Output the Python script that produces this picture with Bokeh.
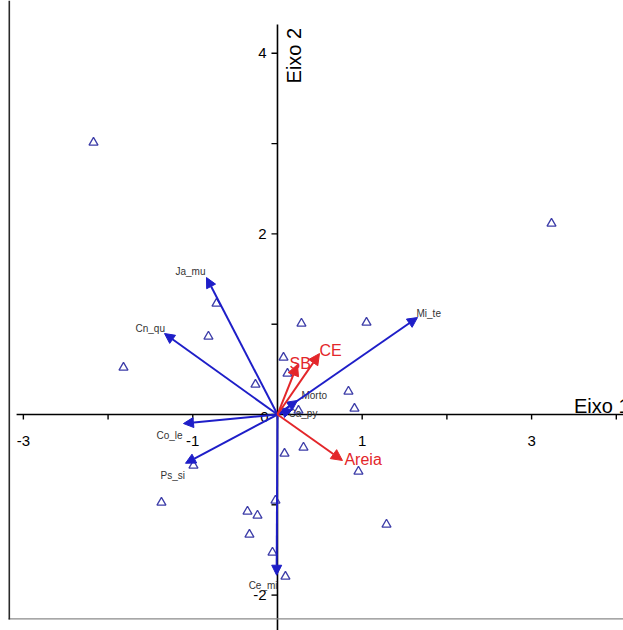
import math
from bokeh.plotting import figure
from bokeh.models import ColumnDataSource, Arrow, NormalHead, BoxAnnotation
from bokeh.core.properties import value
from bokeh.embed import file_html
from bokeh.resources import INLINE

# ---- data ----
site_x = [-2.172, 3.235, -0.720, -0.815, -1.818, -0.260, 0.283, 1.051, 0.071, 0.118,
          0.838, 0.909, 0.248, 0.083, 0.307, 0.956, -0.992, -1.370, 1.287, -0.024,
          -0.354, -0.236, -0.331, -0.059, 0.094]
site_y = [3.012, 2.115, 1.229, 0.864, 0.520, 0.332, 1.008, 1.019, 0.631, 0.454,
          0.255, 0.066, 0.044, -0.432, -0.365, -0.631, -0.565, -0.975, -1.218, -0.952,
          -1.074, -1.118, -1.329, -1.528, -1.794]

species = ["Ja_mu", "Cn_qu", "Co_le", "Ps_si", "Ce_mi", "Mi_te", "Morto", "Ca_py"]
species_x = [-0.838, -1.334, -1.110, -1.086, -0.010, 1.653, 0.236, 0.177]
species_y = [1.517, 0.897, -0.100, -0.540, -1.780, 1.074, 0.155, 0.055]

env = ["SB", "CE", "Areia"]
env_x = [0.236, 0.496, 0.767]
env_y = [0.554, 0.675, -0.509]

x_ticks = [-3, -2, -1, 0, 1, 2, 3, 4]
x_tick_labels = [-3, -1, 1, 3]
y_ticks = [-2, -1, 0, 1, 2, 3, 4]
y_tick_labels = [-2, 2, 4]

x_title = "Eixo 1"
y_title = "Eixo 2"

# ---- styling / placement ----
FONT = value("Liberation Sans")
BLUE = "#1e1ec8"
RED = "#e3262a"
TRI = "#3c3ca8"
sp_dx = [-31, -29, -27, -25, -28, -1, 4, -4]
sp_dy = [-6, -5, 12, 12, 10, -4, -5, 4]
env_dx = [-8, 0, 2]
env_dy = [-1, -3, -1]

W, H = 623, 630
p = figure(width=W, height=H, x_range=(-3.270, 4.085), y_range=(-2.392, 4.585),
           output_backend="svg", toolbar_location=None, title=None,
           x_axis_location=None, y_axis_location=None, min_border=0)
p.grid.visible = False
p.outline_line_color = None
p.background_fill_color = "white"
p.border_fill_color = "white"

# frame border (top gray, left dark)
p.add_layout(BoxAnnotation(left=8, right=W, top=11, bottom=12.3,
                           left_units="screen", right_units="screen",
                           top_units="screen", bottom_units="screen",
                           fill_color="#8a8a8a", fill_alpha=1, line_color=None))
p.add_layout(BoxAnnotation(left=8, right=9.6, top=11, bottom=H,
                           left_units="screen", right_units="screen",
                           top_units="screen", bottom_units="screen",
                           fill_color="#2a2a2a", fill_alpha=1, line_color=None))

# axes through origin
p.segment(x0=[-3.08], y0=[0], x1=[4.2], y1=[0], line_color="black", line_width=1.6)
p.segment(x0=[0], y0=[-2.5], x1=[0], y1=[4.32], line_color="black", line_width=1.6)
p.ray(x=x_ticks, y=[0] * len(x_ticks), length=5, length_units="screen",
      angle=-math.pi / 2, line_color="black", line_width=1.4)
p.ray(x=[0] * len(y_ticks), y=y_ticks, length=6, length_units="screen",
      angle=math.pi, line_color="black", line_width=1.4)

p.text(x=x_tick_labels, y=[0] * len(x_tick_labels), text=[str(v) for v in x_tick_labels],
       text_font=FONT, text_font_size="15px", text_align="center",
       text_baseline="alphabetic", y_offset=26, text_color="black")
p.text(x=[0] * len(y_tick_labels), y=y_tick_labels, text=[str(v) for v in y_tick_labels],
       text_font=FONT, text_font_size="15px", text_align="right",
       text_baseline="middle", x_offset=-11, text_color="black")
p.text(x=[0], y=[0], text=["0"], text_font=FONT, text_font_size="15px",
       text_align="center", text_baseline="middle", x_offset=-13, y_offset=2,
       text_color="black")

p.text(x=[3.5], y=[0], text=[x_title], text_font=FONT, text_font_size="20px",
       text_align="left", text_baseline="alphabetic", y_offset=-9, text_color="black")
p.text(x=[0], y=[4.32], text=[y_title], text_font=FONT, text_font_size="20px",
       text_align="left", text_baseline="alphabetic", angle=math.pi / 2,
       x_offset=17, y_offset=59, text_color="black")

# sites
p.scatter(site_x, site_y, marker="triangle", size=9, fill_color=None,
          line_color=TRI, line_width=1.3)

# species arrows
sp_src = ColumnDataSource(dict(x=species_x, y=species_y, name=species,
                               dx=sp_dx, dy=sp_dy))
p.add_layout(Arrow(end=NormalHead(size=10, fill_color=BLUE, line_color=BLUE),
                   x_start=0, y_start=0, x_end="x", y_end="y", source=sp_src,
                   line_color=BLUE, line_width=2))
p.text(x="x", y="y", text="name", source=sp_src, x_offset="dx", y_offset="dy",
       text_font=FONT, text_font_size="10px", text_color="#333333",
       text_align="left", text_baseline="alphabetic")

# environmental arrows
env_src = ColumnDataSource(dict(x=env_x, y=env_y, name=env, dx=env_dx, dy=env_dy))
p.add_layout(Arrow(end=NormalHead(size=11, fill_color=RED, line_color=RED),
                   x_start=0, y_start=0, x_end="x", y_end="y", source=env_src,
                   line_color=RED, line_width=2))
p.text(x="x", y="y", text="name", source=env_src, x_offset="dx", y_offset="dy",
       text_font=FONT, text_font_size="16px", text_color=RED,
       text_align="left", text_baseline="alphabetic")

open("out.html", "w").write(file_html(p, INLINE))
